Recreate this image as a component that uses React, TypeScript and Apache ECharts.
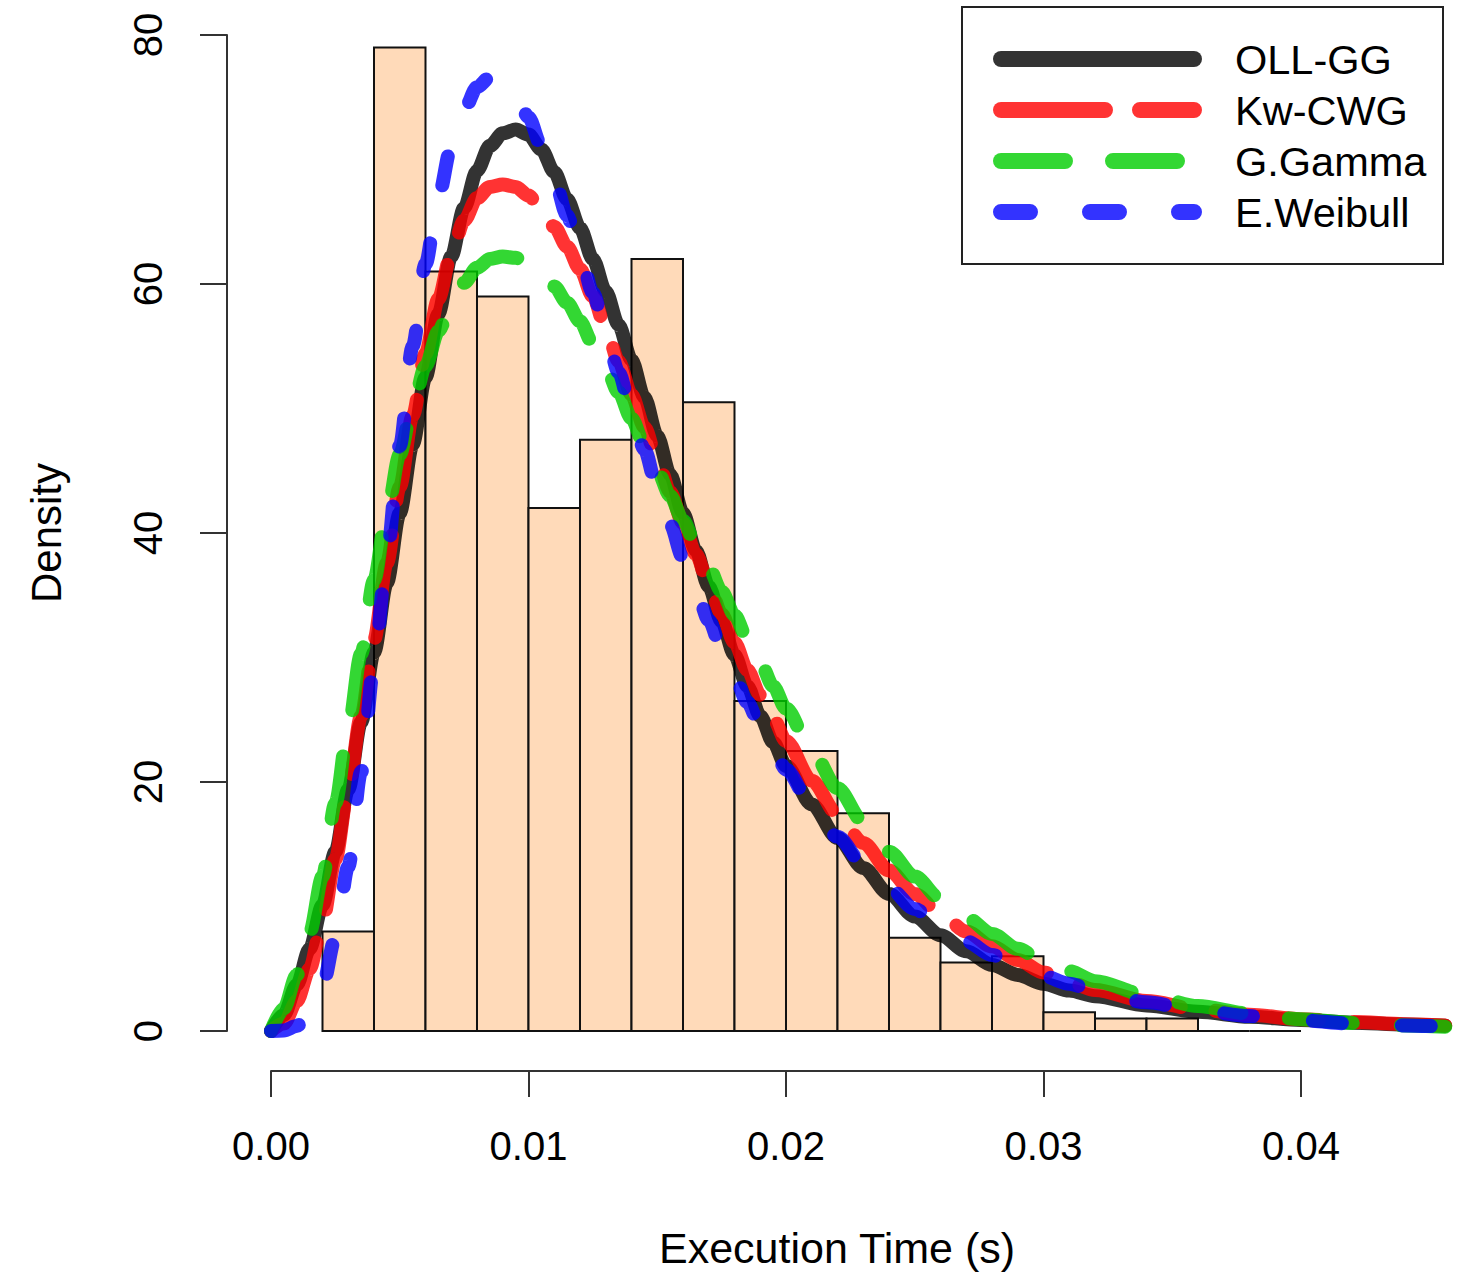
import React, { useEffect, useRef } from "react";
import * as echarts from "echarts";

// Histogram (density scale): bin breaks and bar heights
const breaks = [0.002, 0.004, 0.006, 0.008, 0.010, 0.012, 0.014, 0.016, 0.018, 0.020, 0.022, 0.024, 0.026, 0.028, 0.030, 0.032, 0.034, 0.036, 0.038, 0.040];
const densities = [8, 79, 61, 59, 42, 47.5, 62, 50.5, 26.5, 22.5, 17.5, 7.5, 5.5, 6, 1.5, 1, 1, 0, 0];

// Fitted density curves
const xGrid = [
  0, 0.0005, 0.001, 0.0015, 0.002, 0.0025, 0.003, 0.0035, 0.004, 0.0045,
  0.005, 0.0055, 0.006, 0.0065, 0.007, 0.0075, 0.008, 0.0085, 0.009, 0.0095,
  0.010, 0.0105, 0.011, 0.0115, 0.012, 0.0125, 0.013, 0.0135, 0.014, 0.0145,
  0.015, 0.0155, 0.016, 0.0165, 0.017, 0.0175, 0.018, 0.0185, 0.019, 0.0195,
  0.020, 0.021, 0.022, 0.023, 0.024, 0.025, 0.026, 0.027, 0.028, 0.029,
  0.030, 0.031, 0.032, 0.034, 0.036, 0.038, 0.040, 0.042, 0.044, 0.0456,
];
const ollgg = [
  0, 1.3, 3.7, 6.6, 10.1, 14.4, 19.4, 24.8, 30.4, 36.0,
  41.6, 47.1, 52.5, 57.6, 62.2, 66.1, 69.1, 71.1, 72.1, 72.4,
  72.0, 70.8, 69.0, 66.8, 64.5, 62.0, 59.4, 56.7, 53.9, 50.9,
  47.8, 44.7, 41.6, 38.6, 35.7, 32.9, 30.2, 27.7, 25.3, 23.2,
  21.3, 18.2, 15.5, 13.1, 11.0, 9.2, 7.7, 6.4, 5.3, 4.5,
  3.8, 3.25, 2.8, 2.05, 1.55, 1.15, 0.88, 0.67, 0.52, 0.43,
];
const kwcwg = [
  0, 0.6, 2.4, 5.0, 8.8, 13.8, 19.4, 25.3, 31.4, 37.6,
  43.7, 49.4, 54.4, 58.8, 62.4, 65.1, 66.9, 67.8, 68.0, 67.8,
  67.1, 66.0, 64.6, 63.0, 61.2, 59.0, 56.5, 53.8, 51.1, 48.5,
  45.9, 43.3, 40.8, 38.3, 35.9, 33.5, 31.2, 29.0, 27.0, 25.1,
  23.3, 20.1, 17.4, 15.1, 12.9, 11.0, 9.4, 8.0, 6.8, 5.7,
  4.7, 3.9, 3.3, 2.4, 1.75, 1.3, 0.95, 0.72, 0.55, 0.45,
];
const ggamma = [
  0, 1.8, 4.5, 7.9, 12.4, 18.3, 24.3, 30.3, 36.2, 41.6,
  46.3, 50.2, 53.4, 56.2, 58.4, 60.1, 61.3, 62.0, 62.2, 62.1,
  61.7, 60.9, 59.8, 58.5, 57.0, 55.2, 53.3, 51.3, 49.2, 47.1,
  45.0, 43.0, 41.0, 39.1, 37.2, 35.3, 33.4, 31.5, 29.6, 27.7,
  25.9, 22.5, 19.5, 16.8, 14.4, 12.4, 10.6, 9.1, 7.8, 6.6,
  5.6, 4.8, 4.0, 2.9, 2.0, 1.4, 0.95, 0.65, 0.45, 0.35,
];
const eweibull = [
  0, 0.05, 0.4, 1.5, 3.6, 7.5, 13.2, 20.8, 29.3, 38.2,
  47.0, 55.0, 61.6, 67.0, 71.0, 74.0, 75.8, 76.6, 76.4, 75.3,
  73.4, 71.1, 68.4, 65.5, 62.4, 59.3, 56.1, 52.9, 49.8, 46.7,
  43.6, 40.7, 38.0, 35.4, 33.0, 30.7, 28.5, 26.4, 24.5, 22.7,
  21.0, 18.1, 15.6, 13.4, 11.5, 9.8, 8.4, 7.2, 6.1, 5.2,
  4.4, 3.8, 3.2, 2.3, 1.65, 1.2, 0.85, 0.6, 0.45, 0.35,
];

const seriesNames = ["OLL-GG", "Kw-CWG", "G.Gamma", "E.Weibull"];
const seriesColors = ["rgba(0,0,0,0.8)", "rgba(255,0,0,0.8)", "rgba(0,205,0,0.8)", "rgba(0,0,255,0.8)"];
const seriesDash: (number[] | "solid")[] = ["solid", [104, 35], [64, 48], [29, 60]];
const seriesValues = [ollgg, kwcwg, ggamma, eweibull];

const FONT = "Liberation Sans, Arial, Helvetica, sans-serif";

export default function App() {
  const ref = useRef<HTMLDivElement>(null);
  useEffect(() => {
    if (!ref.current) return;
    const chart = echarts.init(ref.current, null, { renderer: "svg" });

    const histData = densities.map((d, i) => [breaks[i], breaks[i + 1], d]);

    const lineSeries = seriesNames.map((name, k) => ({
      name,
      type: "line",
      xAxisIndex: 0,
      yAxisIndex: 0,
      data: xGrid.map((x, i) => [x, seriesValues[k][i]]),
      showSymbol: false,
      symbol: "none",
      smooth: 0.3,
      smoothMonotone: "x",
      clip: false,
      z: 3 + k,
      lineStyle: {
        color: seriesColors[k],
        width: 14,
        type: seriesDash[k],
        cap: "round",
        join: "round",
      },
    }));

    const legendX1 = 1001;
    const legendX2 = 1194;
    const legendRows = [59, 110, 161, 212];
    const legendGraphics: any[] = [
      {
        type: "rect",
        shape: { x: 962, y: 7, width: 481, height: 257 },
        style: { fill: "none", stroke: "#222", lineWidth: 2 },
        z: 100,
      },
    ];
    seriesNames.forEach((name, k) => {
      legendGraphics.push({
        type: "line",
        shape: { x1: legendX1, y1: legendRows[k], x2: legendX2, y2: legendRows[k] },
        style: {
          stroke: seriesColors[k],
          lineWidth: 16,
          lineCap: "round",
          lineDash: seriesDash[k] === "solid" ? null : seriesDash[k],
        },
        z: 100,
      });
      legendGraphics.push({
        type: "text",
        x: 1235,
        y: legendRows[k],
        style: {
          text: name,
          fill: "#000",
          font: `41.5px ${FONT}`,
          verticalAlign: "middle",
          align: "left",
        },
        z: 100,
      });
    });

    const option: any = {
      animation: false,
      backgroundColor: "#fff",
      grid: [
        { left: 227, right: 12, top: 35, bottom: 248, containLabel: false },
        { left: 271, width: 1030, top: 1070, height: 1, containLabel: false },
      ],
      xAxis: [
        {
          type: "value",
          gridIndex: 0,
          min: -0.0017087,
          max: 0.0456699,
          axisLine: { show: false, onZero: false },
          axisTick: { show: false },
          axisLabel: { show: false },
          splitLine: { show: false },
          name: "Execution Time (s)",
          nameLocation: "middle",
          nameGap: 195,
          nameTextStyle: { fontSize: 43, color: "#000", fontFamily: FONT },
        },
        {
          type: "value",
          gridIndex: 1,
          min: 0,
          max: 0.04,
          interval: 0.01,
          position: "bottom",
          axisLine: { show: true, onZero: false, lineStyle: { color: "#333", width: 2 } },
          axisTick: { show: true, length: 26, inside: false, lineStyle: { color: "#333", width: 2 } },
          axisLabel: {
            show: true,
            margin: 55,
            fontSize: 40,
            color: "#000",
            fontFamily: FONT,
            formatter: (v: number) => v.toFixed(2),
          },
          splitLine: { show: false },
        },
      ],
      yAxis: [
        {
          type: "value",
          gridIndex: 0,
          min: 0,
          max: 80,
          interval: 20,
          position: "left",
          axisLine: { show: true, onZero: false, lineStyle: { color: "#333", width: 2 } },
          axisTick: { show: true, length: 27, inside: false, lineStyle: { color: "#333", width: 2 } },
          axisLabel: {
            show: true,
            rotate: 90,
            margin: 59,
            fontSize: 40,
            color: "#000",
            fontFamily: FONT,
          },
          splitLine: { show: false },
          name: "Density",
          nameLocation: "middle",
          nameGap: 160,
          nameRotate: 90,
          nameTextStyle: { fontSize: 42, color: "#000", fontFamily: FONT },
        },
        {
          type: "value",
          gridIndex: 1,
          min: 0,
          max: 1,
          show: false,
        },
      ],
      series: [
        {
          name: "Histogram",
          type: "custom",
          xAxisIndex: 0,
          yAxisIndex: 0,
          z: 2,
          data: histData,
          encode: { x: [0, 1], y: 2 },
          renderItem: (params: any, api: any) => {
            const p0 = api.coord([api.value(0), 0]);
            const p1 = api.coord([api.value(1), api.value(2)]);
            return {
              type: "rect",
              shape: { x: p0[0], y: p1[1], width: p1[0] - p0[0], height: p0[1] - p1[1] },
              style: { fill: "#FFDAB9", stroke: "#111", lineWidth: 2 },
            };
          },
        },
        ...lineSeries,
      ],
      graphic: legendGraphics,
    };

    chart.setOption(option);
    return () => chart.dispose();
  }, []);

  return (
    <div
      ref={ref}
      style={{ position: "absolute", left: 0, top: 0, width: 1459, height: 1279, background: "#fff" }}
    />
  );
}
